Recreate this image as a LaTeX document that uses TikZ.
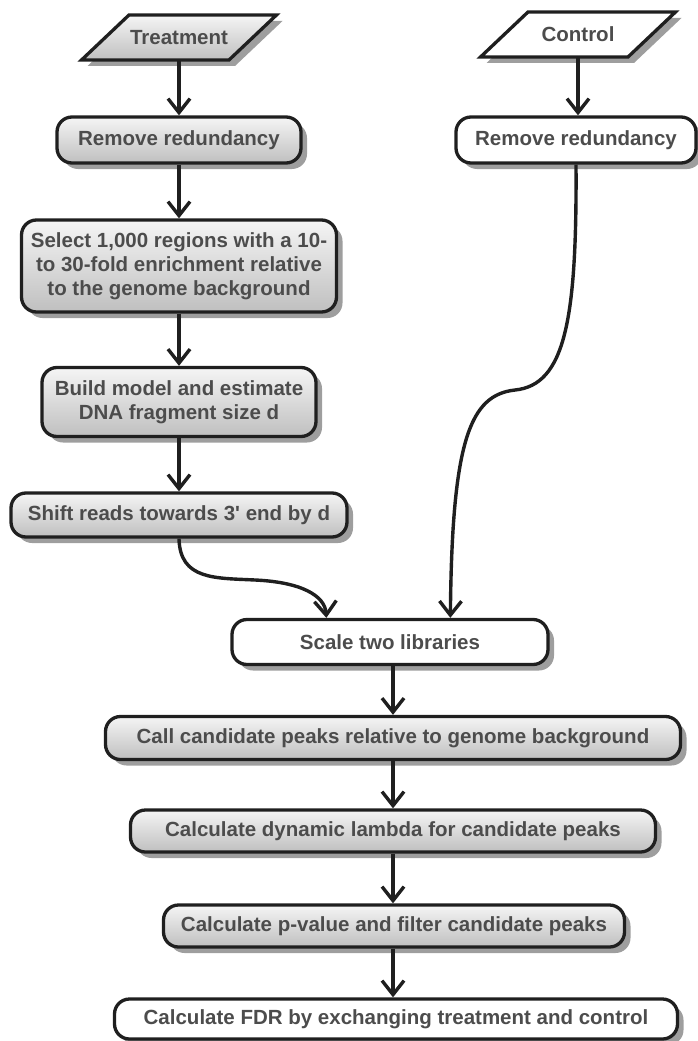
\documentclass[tikz,border=0pt]{standalone}
\usepackage{fontspec}
\setmainfont{Liberation Sans}
\usetikzlibrary{arrows.meta,shadows,calc}
\begin{document}
\begin{tikzpicture}[x=1pt,y=1pt,
  txt/.style={font=\fontsize{20.5}{24}\selectfont\bfseries, text=black!70, align=center},
  shad/.style={drop shadow={shadow xshift=6pt, shadow yshift=-6pt, fill=black!38, opacity=1}},
  proc/.style={txt, shad, draw=black!88, line width=3.3pt, rounded corners=15pt, inner sep=0pt},
  grayfill/.style={top color=black!4, bottom color=black!25},
  whitefill/.style={fill=white},
  para/.style={shad, draw=black!88, line width=3.3pt, line join=miter},
  flow/.style={draw=black!88, line width=3.4pt, -{Straight Barb[length=14pt,width=22pt]}},
]
\useasboundingbox (0,0) rectangle (697,-1041);

% input parallelograms
\begin{scope}[shift={(179,-37.5)}]
  \draw[para, grayfill] (-97.5,-22.5) -- (50,-22.5) -- (97.5,22.5) -- (-50,22.5) -- cycle;
\end{scope}
\node[txt, minimum width=150pt, minimum height=45pt, inner sep=0pt] (treat) at (179,-37.5) {Treatment};

\begin{scope}[shift={(578,-34.5)}]
  \draw[para, whitefill] (-97.5,-22.5) -- (50,-22.5) -- (97.5,22.5) -- (-50,22.5) -- cycle;
\end{scope}
\node[txt, minimum width=150pt, minimum height=45pt, inner sep=0pt] (ctrl) at (578,-34.5) {Control};

% process boxes
\node[proc, grayfill, minimum width=244pt, minimum height=46pt] (rem1) at (179,-140) {Remove redundancy};
\node[proc, whitefill, minimum width=240pt, minimum height=46pt] (rem2) at (576,-140) {Remove redundancy};
\node[proc, grayfill, minimum width=315pt, minimum height=92pt] (sel) at (179,-266) {Select 1,000 regions with a 10-\\to 30-fold enrichment relative\\to the genome background};
\node[proc, grayfill, minimum width=274pt, minimum height=69pt] (build) at (179,-402) {Build model and estimate\\DNA fragment size d};
\node[proc, grayfill, minimum width=336pt, minimum height=44pt] (shift) at (179,-515) {Shift reads towards 3\textquotesingle{} end by d};
\node[proc, whitefill, minimum width=316pt, minimum height=45pt] (scale) at (390,-642) {Scale two libraries};
\node[proc, grayfill, minimum width=575pt, minimum height=43pt] (call) at (393,-738) {Call candidate peaks relative to genome background};
\node[proc, grayfill, minimum width=525pt, minimum height=42pt] (lam) at (393,-831) {Calculate dynamic lambda for candidate peaks};
\node[proc, grayfill, minimum width=461pt, minimum height=42pt] (pval) at (394,-926) {Calculate p-value and filter candidate peaks};
\node[proc, whitefill, minimum width=563pt, minimum height=40pt] (fdr) at (396,-1019) {Calculate FDR by exchanging treatment and control};

% connectors
\draw[flow] (treat.south) -- (treat.south |- rem1.north);
\draw[flow] (rem1.south) -- (rem1.south |- sel.north);
\draw[flow] (sel.south) -- (sel.south |- build.north);
\draw[flow] (build.south) -- (build.south |- shift.north);
\draw[flow] (ctrl.south) -- (ctrl.south |- rem2.north);

\coordinate (m1) at (255,-580);
\coordinate (e1) at ($(scale.north west)+(96,0)$);
\draw[flow] (shift.south) .. controls (180,-580) and (215,-578) .. (m1) .. controls (300,-582) and (325,-595) .. (e1);

\coordinate (m2) at (515,-390);
\coordinate (e2) at ($(scale.north west)+(220,0)$);
\draw[flow] (rem2.south) .. controls (577,-320) and (565,-385) .. (m2) .. controls (470,-395) and (452,-440) .. (e2);

\draw[flow] (scale.south -| lam.north) -- (call.north -| lam.north);
\draw[flow] (call.south -| lam.north) -- (lam.north);
\draw[flow] (lam.south) -- (lam.south |- pval.north);
\draw[flow] (pval.south -| lam.south) -- (fdr.north -| lam.south);
\end{tikzpicture}
\end{document}
